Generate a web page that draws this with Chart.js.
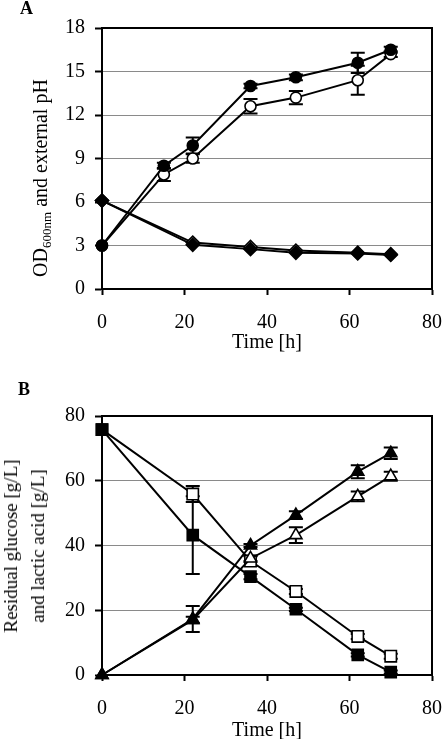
<!DOCTYPE html>
<html lang="en">
<head>
  <meta charset="UTF-8" />
  <title>Fermentation time course</title>
  <script src="https://cdn.jsdelivr.net/npm/chart.js"></script>
  <style>
    body { margin: 0; background: #fff; }
    #page { position: relative; width: 442px; height: 739px; overflow: hidden; font-family: 'Liberation Serif', 'Times New Roman', serif; color: #000; }
    canvas { position: absolute; left: 0; }
    #chartA { top: 0; }
    #chartB { top: 370px; }
    .panel { position: absolute; font-weight: bold; font-size: 18px; line-height: 18px; }
    .ytitle { position: absolute; white-space: nowrap; font-size: 20px; line-height: 20px; text-align: center;
              transform: translate(-50%, -50%) rotate(-90deg); }
    .ytitle sub { font-size: 13px; line-height: 0; vertical-align: -4px; }
    #ytB { font-size: 19px; line-height: 27px; }
  </style>
</head>
<body>
  <div id="page">
    <canvas id="chartA" width="442" height="360"></canvas>
    <canvas id="chartB" width="442" height="369"></canvas>
    <div class="panel" style="left:20px; top:-1px;">A</div>
    <div class="panel" style="left:18px; top:380px;">B</div>
    <div class="ytitle" style="left:40px; top:178px;">OD<sub>600nm</sub> and external pH</div>
    <div class="ytitle" id="ytB" style="left:24px; top:546px;">Residual glucose [g/L]<br>and lactic acid [g/L]</div>
  </div>

  <script>
    // Panel A: cell density (OD600) and external pH
    const timeA = [0, 15, 22, 36, 47, 62, 70];
    const odFilled = [3.0, 8.5, 9.9, 14.0, 14.6, 15.6, 16.5];
    const odFilledErr = [0, 0.2, 0.55, 0.15, 0.2, 0.7, 0.2];
    const odOpen = [3.0, 7.9, 9.0, 12.6, 13.2, 14.4, 16.2];
    const odOpenErr = [0, 0.45, 0.3, 0.5, 0.45, 1.0, 0.2];
    const timePh = [0, 22, 36, 47, 62, 70];
    const phFilled = [6.1, 3.05, 2.75, 2.5, 2.45, 2.35];
    const phOpen = [6.1, 3.2, 2.9, 2.65, 2.5, 2.4];
    const ticksA = [0, 3, 6, 9, 12, 15, 18];

    // Panel B: residual glucose and lactic acid
    const timeB = [0, 22, 36, 47, 62, 70];
    const glcFilled = [75.8, 43.2, 30.4, 20.3, 6.2, 0.9];
    const glcFilledErr = [0, 12, 0.8, 0.5, 0.5, 0.5];
    const glcOpen = [75.8, 55.9, 35.2, 25.8, 11.9, 5.8];
    const glcOpenErr = [0, 2.5, 1.5, 0.8, 0.8, 0.8];
    const lacFilled = [0, 17.3, 40.0, 49.4, 62.8, 68.5];
    const lacFilledErr = [0, 4.0, 0.5, 1.2, 2.0, 1.8];
    const lacOpen = [0, 17.0, 36.0, 43.2, 55.2, 61.4];
    const lacOpenErr = [0, 1.0, 0.8, 2.4, 1.5, 1.4];
    const ticksB = [0, 20, 40, 60, 80];
    const ticksX = [0, 20, 40, 60, 80];

    const fontTick = { family: "'Liberation Serif', serif", size: 20 };

    function pts(xs, ys) {
      return xs.map((x, i) => ({ x: x, y: ys[i] }));
    }

    function series(xs, ys, errs, style, filled, radius, order) {
      return {
        data: pts(xs, ys),
        errors: errs,
        borderColor: '#000',
        backgroundColor: filled ? '#000' : '#fff',
        borderWidth: 2,
        pointStyle: style,
        pointRadius: radius,
        pointBorderWidth: 1.6,
        pointBackgroundColor: filled ? '#000' : '#fff',
        pointBorderColor: '#000',
        tension: 0,
        clip: false,
        order: order
      };
    }

    // error bars and the box around the plot, drawn under the markers
    const errorBars = {
      id: 'errorBars',
      beforeDatasetsDraw(chart) {
        const ctx = chart.ctx;
        const xs = chart.scales.x, ys = chart.scales.y;
        ctx.save();
        ctx.strokeStyle = '#000';
        ctx.lineWidth = 2;
        chart.data.datasets.forEach(ds => {
          if (!ds.errors) return;
          ds.data.forEach((p, i) => {
            const e = ds.errors[i];
            if (!e) return;
            const x = xs.getPixelForValue(p.x);
            const y1 = ys.getPixelForValue(p.y - e);
            const y2 = ys.getPixelForValue(p.y + e);
            ctx.beginPath();
            ctx.moveTo(x, y1); ctx.lineTo(x, y2);
            ctx.moveTo(x - 7, y1); ctx.lineTo(x + 7, y1);
            ctx.moveTo(x - 7, y2); ctx.lineTo(x + 7, y2);
            ctx.stroke();
          });
        });
        const a = chart.chartArea;
        ctx.strokeRect(a.left, a.top, a.right - a.left, a.bottom - a.top);
        ctx.restore();
      }
    };

    function makeOptions(yMax, yStep, yTicks, xHeight, padTop, titlePad) {
      return {
        responsive: false,
        animation: false,
        layout: { padding: { top: padTop, right: 0, left: 0, bottom: 0 } },
        plugins: { legend: { display: false }, tooltip: { enabled: false } },
        scales: {
          x: {
            type: 'linear', min: 0, max: 80,
            afterBuildTicks: s => { s.ticks = ticksX.map(v => ({ value: v })); },
            afterFit: s => { s.height = xHeight; s.paddingRight = 10; },
            grid: { drawOnChartArea: false, tickLength: 6, tickColor: '#000', tickWidth: 2 },
            border: { color: '#000', width: 2 },
            ticks: { color: '#000', font: fontTick, padding: 16, maxRotation: 0 },
            title: { display: true, text: 'Time [h]', color: '#000',
                     font: { family: "'Liberation Serif', serif", size: 20, lineHeight: 0.8 },
                     padding: { top: 0, bottom: titlePad } }
          },
          y: {
            min: 0, max: yMax,
            afterBuildTicks: s => { s.ticks = yTicks.map(v => ({ value: v })); },
            afterFit: s => { s.width = 102; },
            grid: { color: '#8a8a8a', lineWidth: 1, tickLength: 7, tickColor: '#000', tickWidth: 2 },
            border: { color: '#000', width: 2 },
            ticks: { color: '#000', font: fontTick, padding: 10, stepSize: yStep }
          }
        }
      };
    }

    new Chart(document.getElementById('chartA'), {
      type: 'line',
      data: {
        datasets: [
          series(timeA, odFilled, odFilledErr, 'circle', true, 5.5, 1),
          series(timeA, odOpen, odOpenErr, 'circle', false, 5.5, 2),
          series(timePh, phFilled, null, 'rectRot', true, 6.5, 3),
          series(timePh, phOpen, null, 'rectRot', false, 6.5, 4)
        ]
      },
      options: makeOptions(18, 3, ticksA, 71, 28, 9),
      plugins: [errorBars]
    });

    new Chart(document.getElementById('chartB'), {
      type: 'line',
      data: {
        datasets: [
          series(timeB, lacFilled, lacFilledErr, 'triangle', true, 7, 1),
          series(timeB, lacOpen, lacOpenErr, 'triangle', false, 7, 2),
          series(timeB, glcFilled, glcFilledErr, 'rect', true, 7.8, 3),
          series(timeB, glcOpen, glcOpenErr, 'rect', false, 8, 4)
        ]
      },
      options: makeOptions(80, 20, ticksB, 64, 46, 0),
      plugins: [errorBars]
    });
  </script>
</body>
</html>
